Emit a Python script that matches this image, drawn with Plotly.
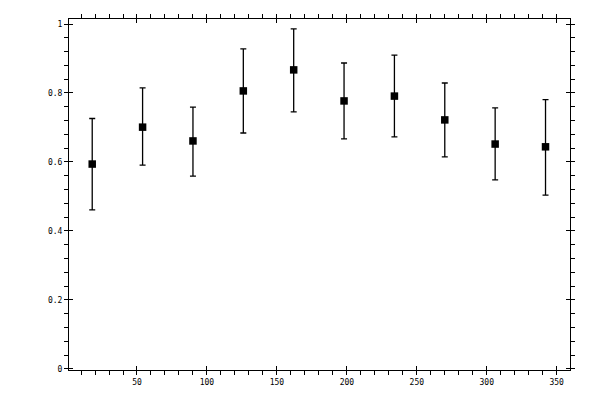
import plotly.graph_objects as go

# bin centres (deg) and measured values with error bar ends
x_vals = [18, 54, 90, 126, 162, 198, 234, 270, 306, 342]
y_vals = [0.594, 0.701, 0.661, 0.806, 0.867, 0.777, 0.791, 0.722, 0.652, 0.644]
y_upper = [0.726, 0.815, 0.759, 0.928, 0.986, 0.887, 0.910, 0.829, 0.757, 0.781]
y_lower = [0.461, 0.591, 0.559, 0.684, 0.745, 0.667, 0.673, 0.615, 0.548, 0.504]

err_plus = [u - v for u, v in zip(y_upper, y_vals)]
err_minus = [v - l for v, l in zip(y_vals, y_lower)]

fig = go.Figure()
fig.add_trace(go.Scatter(
    x=x_vals, y=y_vals, mode='markers',
    marker=dict(symbol='square', size=7.5, color='black'),
    error_y=dict(type='data', symmetric=False, array=err_plus, arrayminus=err_minus,
                 color='black', thickness=1.3, width=3),
    showlegend=False,
))

tickfont = dict(family='DejaVu Sans Mono', size=8, color='black')
xr = [1.4, 359.5]
yr = [-0.003, 1.0145]

# page has an 8px body margin, so the margins are shifted to compensate
fig.update_layout(
    width=600, height=400,
    margin=dict(l=61, r=38, t=11, b=38),
    paper_bgcolor='white', plot_bgcolor='white',
    xaxis=dict(range=xr, tick0=0, dtick=50, ticks='outside', ticklen=4, tickwidth=1,
               tickcolor='black', showline=True, linecolor='black', linewidth=1,
               mirror='ticks', showgrid=False, zeroline=False, tickfont=tickfont,
               automargin=False,
               minor=dict(dtick=10, ticks='outside', ticklen=4, tickwidth=1,
                          tickcolor='black', showgrid=False)),
    yaxis=dict(range=yr, tick0=0, dtick=0.2, ticks='outside', ticklen=4, tickwidth=1,
               tickcolor='black', showline=True, linecolor='black', linewidth=1,
               mirror='ticks', showgrid=False, zeroline=False, tickfont=tickfont,
               automargin=False,
               minor=dict(dtick=0.04, ticks='outside', ticklen=4, tickwidth=1,
                          tickcolor='black', showgrid=False)),
    # overlay axes give the inner half of the major ticks
    xaxis2=dict(range=xr, tick0=0, dtick=50, ticks='inside', ticklen=4, tickwidth=1,
                tickcolor='black', overlaying='x', mirror='ticks', showline=False,
                showgrid=False, zeroline=False, showticklabels=False, automargin=False),
    yaxis2=dict(range=yr, tick0=0, dtick=0.2, ticks='inside', ticklen=4, tickwidth=1,
                tickcolor='black', overlaying='y', mirror='ticks', showline=False,
                showgrid=False, zeroline=False, showticklabels=False, automargin=False),
)
fig.add_trace(go.Scatter(x=[None], y=[None], xaxis='x2', yaxis='y2',
                         showlegend=False, hoverinfo='skip'))

fig.write_html("out.html")
